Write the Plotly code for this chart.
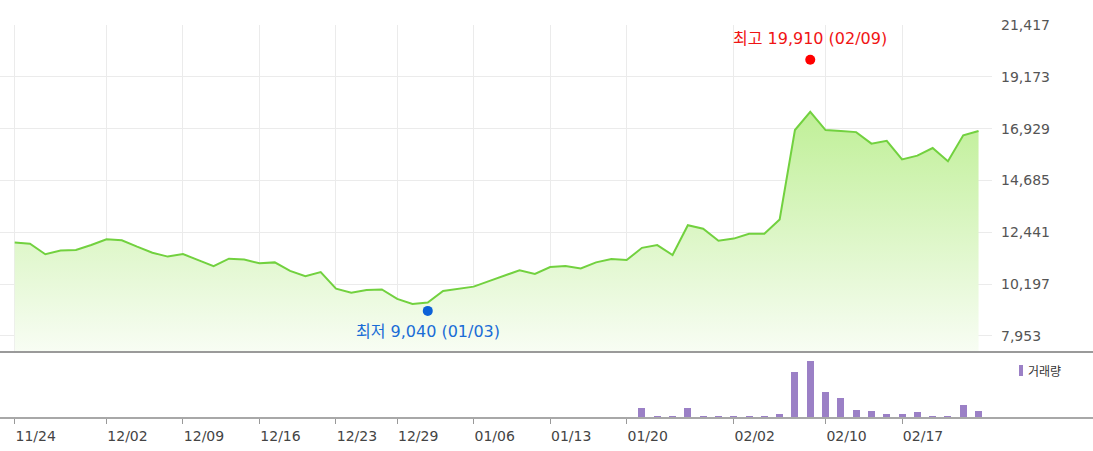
import plotly.graph_objects as go

# ---------------- data ----------------
dates = ["11/24", "11/25", "11/28", "11/29", "11/30", "12/01", "12/02",
         "12/05", "12/06", "12/07", "12/08", "12/09",
         "12/12", "12/13", "12/14", "12/15", "12/16",
         "12/19", "12/20", "12/21", "12/22", "12/23",
         "12/26", "12/27", "12/28", "12/29",
         "01/02", "01/03", "01/04", "01/05", "01/06",
         "01/09", "01/10", "01/11", "01/12", "01/13",
         "01/16", "01/17", "01/18", "01/19", "01/20",
         "01/25", "01/26", "01/27",
         "01/30", "01/31", "02/01", "02/02", "02/03",
         "02/06", "02/07", "02/08", "02/09", "02/10",
         "02/13", "02/14", "02/15", "02/16", "02/17",
         "02/20", "02/21", "02/22", "02/23", "02/24"]

close = [12000, 11950, 11490, 11650, 11680, 11890, 12140,
         12100, 11820, 11560, 11390, 11500,
         11240, 10980, 11300, 11260, 11100,
         11140, 10770, 10540, 10720, 10000,
         9830, 9940, 9970, 9560,
         9340, 9400, 9900, 9990, 10090,
         10330, 10550, 10800, 10640, 10940,
         10980, 10880, 11140, 11290, 11240,
         11770, 11890, 11460,
         12750, 12600, 12080, 12170, 12380,
         12380, 13000, 16870, 17660, 16870,
         16830, 16780, 16280, 16400, 15600,
         15760, 16090, 15520, 16640, 16830]

volume = [0] * 41 + [1000000, 230000, 230000,
                     1000000, 230000, 230000, 230000, 230000,
                     230000, 400000, 4570000, 5700000, 2570000,
                     1970000, 830000, 700000, 370000, 370000,
                     570000, 230000, 230000, 1330000, 700000]

price_ticks = [7953, 10197, 12441, 14685, 16929, 19173, 21417]
date_ticks = ["11/24", "12/02", "12/09", "12/16", "12/23", "12/29",
              "01/06", "01/13", "01/20", "02/02", "02/10", "02/17"]

high_date, high_val = "02/09", 19910
low_date, low_val = "01/03", 9040

# ---------------- figure ----------------
W, H = 1093, 451
ML, MR, MT, MB = 0, 101, 25, 33
plot_h = H - MT - MB
split = (418 - 352) / plot_h

font_fam = "DejaVu Sans, Noto Sans CJK KR, sans-serif"

fig = go.Figure()

fig.add_trace(go.Scatter(
    x=dates, y=close, mode="lines",
    line=dict(color="#72d13f", width=2),
    fill="tozeroy",
    fillgradient=dict(type="vertical",
                      colorscale=[[0, "#f8fdf4"], [1, "#bfef96"]],
                      start=7260, stop=17800),
    xaxis="x", yaxis="y", hoverinfo="skip", showlegend=False,
))

fig.add_trace(go.Scatter(
    x=[high_date], y=[high_val], mode="markers",
    marker=dict(color="#ff0000", size=10),
    xaxis="x", yaxis="y", showlegend=False, hoverinfo="skip",
))
fig.add_trace(go.Scatter(
    x=[low_date], y=[low_val], mode="markers",
    marker=dict(color="#0d62d8", size=10),
    xaxis="x", yaxis="y", showlegend=False, hoverinfo="skip",
))

fig.add_trace(go.Bar(
    x=dates, y=volume, marker=dict(color="#9b80c6", line=dict(width=0)),
    width=0.46, xaxis="x2", yaxis="y2", showlegend=False, hoverinfo="skip",
))

x_range = [-0.961, 63.88]

fig.update_layout(
    width=W, height=H,
    margin=dict(l=ML, r=MR, t=MT, b=MB),
    paper_bgcolor="white", plot_bgcolor="white",
    font=dict(family=font_fam, color="#444"),
    xaxis=dict(type="category", domain=[0, 1], anchor="y", range=x_range,
               categoryorder="array", categoryarray=dates,
               tickvals=date_ticks, showticklabels=False, ticks="",
               showgrid=True, gridcolor="#ebebeb", gridwidth=1,
               zeroline=False, showline=False),
    yaxis=dict(domain=[split, 1], anchor="x", side="right",
               range=[7260, 21417], tickvals=price_ticks, tickformat=",d",
               showgrid=True, gridcolor="#ebebeb", gridwidth=1,
               zeroline=False, showline=False, ticks="",
               ticklabelstandoff=8,
               tickfont=dict(family=font_fam, size=14, color="#555")),
    xaxis2=dict(type="category", domain=[0, 1], anchor="y2", range=x_range,
                categoryorder="array", categoryarray=dates, matches="x",
                tickvals=date_ticks, ticktext=date_ticks,
                showgrid=False, zeroline=False, showline=False,
                ticks="outside", ticklen=5, tickcolor="#999", tickwidth=1,
                ticklabelshift=21,
                tickfont=dict(family=font_fam, size=14, color="#444")),
    yaxis2=dict(domain=[0, split], anchor="x2", range=[0, 6600000],
                showgrid=False, zeroline=False, showline=False,
                showticklabels=False, ticks=""),
    bargap=0,
)

# divider lines spanning full width
x_full = W / (W - ML - MR)
fig.add_shape(type="line", xref="paper", yref="paper", x0=0, x1=x_full,
              y0=split, y1=split, line=dict(color="#9a9a9a", width=2), layer="above")
fig.add_shape(type="line", xref="paper", yref="paper", x0=0, x1=x_full,
              y0=0, y1=0, line=dict(color="#a8a8a8", width=2), layer="above")

# high / low annotations
fig.add_annotation(x=high_date, y=high_val, xref="x", yref="y",
                   text=f"최고 {high_val:,} ({high_date})", showarrow=False,
                   yshift=21, font=dict(family=font_fam, size=16, color="#f01414"))
fig.add_annotation(x=low_date, y=low_val, xref="x", yref="y",
                   text=f"최저 {low_val:,} ({low_date})", showarrow=False,
                   yshift=-21, font=dict(family=font_fam, size=16, color="#1a6cd6"))

# volume legend
pw = W - ML - MR
fig.add_shape(type="rect", xref="paper", yref="paper",
              x0=1019 / pw, x1=1023 / pw,
              y0=(418 - 376) / plot_h, y1=(418 - 365) / plot_h,
              fillcolor="#9b80c6", line=dict(width=0))
fig.add_annotation(xref="paper", yref="paper", x=1026 / pw, y=(418 - 370) / plot_h,
                   xanchor="left", yanchor="middle", text="거래량", showarrow=False,
                   font=dict(family="Noto Sans CJK KR, sans-serif", size=12, color="#333"))

fig.write_html("out.html",
               config={"displayModeBar": False},
               post_script="document.body.style.margin='0';document.body.style.padding='0';")
